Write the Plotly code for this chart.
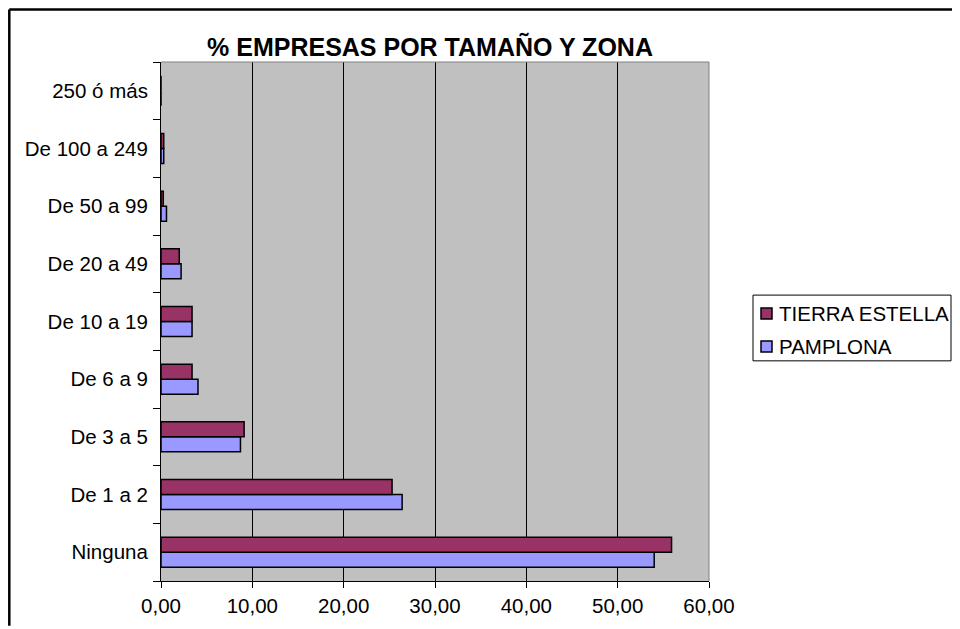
import plotly.graph_objects as go

categorias = ['Ninguna', 'De 1 a 2', 'De 3 a 5', 'De 6 a 9', 'De 10 a 19',
              'De 20 a 49', 'De 50 a 99', 'De 100 a 249', '250 ó más']
tierra_estella = [55.9, 25.3, 9.1, 3.4, 3.4, 2.0, 0.25, 0.3, 0.0]
pamplona = [54.0, 26.4, 8.7, 4.05, 3.4, 2.2, 0.6, 0.3, 0.0]
x_ticks = [0, 10, 20, 30, 40, 50, 60]
x_labels = ['0,00', '10,00', '20,00', '30,00', '40,00', '50,00', '60,00']
series = [('TIERRA ESTELLA', '#993366'), ('PAMPLONA', '#9999FF')]

# the page body has an 8px margin, so work in page pixels and shift
OFF = 8
FW, FH = 960 - OFF, 629 - OFF
L, R, T, B = 161 - OFF, 709 - OFF, 62 - OFF, 583 - OFF
W, H = R - L, B - T


def px(x):
    return (x - OFF - L) / W


def py(y):
    return (B - (y - OFF)) / H


font = dict(family='Liberation Sans, Arial', size=20.5, color='black')

fig = go.Figure()
fig.add_trace(go.Bar(y=categorias, x=pamplona, orientation='h', name='PAMPLONA',
                     marker=dict(color='#9999FF', line=dict(color='black', width=1.5))))
fig.add_trace(go.Bar(y=categorias, x=tierra_estella, orientation='h', name='TIERRA ESTELLA',
                     marker=dict(color='#993366', line=dict(color='black', width=1.5))))

fig.update_layout(
    width=FW, height=FH,
    margin=dict(l=L, r=FW - R, t=T, b=FH - B),
    paper_bgcolor='white', plot_bgcolor='#C0C0C0',
    font=font,
    barmode='group', bargap=0.48, bargroupgap=0,
    title=dict(text='<b>% EMPRESAS POR TAMAÑO Y ZONA</b>', x=(430 - OFF) / FW, xanchor='center',
               y=1 - (47 - OFF) / FH, yanchor='middle', font=dict(size=25)),
    showlegend=False,
)
fig.update_xaxes(range=[0, 60], tickvals=x_ticks, ticktext=x_labels,
                 showgrid=True, gridcolor='black', gridwidth=1,
                 ticks='outside', ticklen=6, tickcolor='black',
                 showline=True, linecolor='black', linewidth=1,
                 zeroline=False, fixedrange=True)
fig.update_yaxes(ticks='outside', ticklen=7, tickcolor='black', tickson='boundaries',
                 ticklabelstandoff=8,
                 showline=True, linecolor='black', linewidth=1, showgrid=False,
                 fixedrange=True)

# top and right edge of plot area
fig.add_shape(type='line', xref='paper', yref='paper', x0=1, x1=1, y0=0, y1=1,
              line=dict(color='#808080', width=1))
fig.add_shape(type='line', xref='paper', yref='paper', x0=0, x1=1, y0=1, y1=1,
              line=dict(color='#808080', width=1))

# outer chart border: left, top, right (bottom edge falls below the picture)
bx0, bx1, by0, by1 = px(9.3), px(956.5), py(628), py(9.3)
for x0, y0, x1, y1 in [(bx0, by0, bx0, by1), (bx0, by1, bx1, by1), (bx1, by1, bx1, by0)]:
    fig.add_shape(type='line', xref='paper', yref='paper', x0=x0, y0=y0, x1=x1, y1=y1,
                  line=dict(color='black', width=2.5))

# legend box
fig.add_shape(type='rect', xref='paper', yref='paper',
              x0=px(753), x1=px(951), y0=py(362), y1=py(296),
              line=dict(color='black', width=1), fillcolor='white')
for i, (name, color) in enumerate(series):
    cy = 314.5 + i * 33
    fig.add_shape(type='rect', xref='paper', yref='paper',
                  x0=px(761), x1=px(772), y0=py(cy + 5.5), y1=py(cy - 5.5),
                  line=dict(color='black', width=1.5), fillcolor=color)
    fig.add_annotation(text=name, xref='paper', yref='paper', x=px(777), y=py(cy),
                       xanchor='left', yanchor='middle', showarrow=False, font=dict(size=20.5))

fig.write_html('out.html')
